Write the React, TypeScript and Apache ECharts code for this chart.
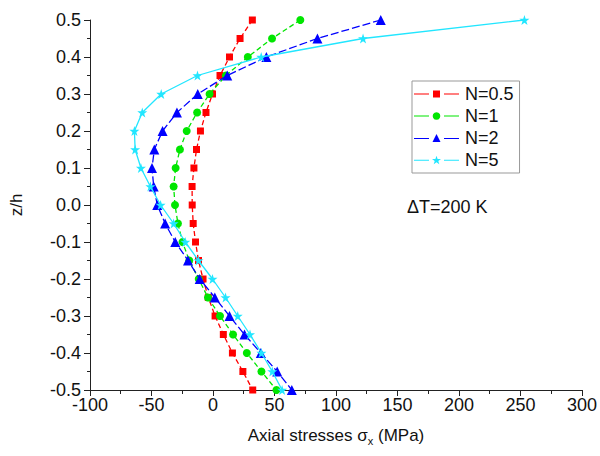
import React, { useEffect, useRef } from "react";
import * as echarts from "echarts";

const zValues = [0.5, 0.45, 0.4, 0.35, 0.3, 0.25, 0.2, 0.15, 0.1, 0.05, 0, -0.05, -0.1, -0.15, -0.2, -0.25, -0.3, -0.35, -0.4, -0.45, -0.5];
const seriesNames = ["N=0.5", "N=1", "N=2", "N=5"];
const stressN05 = [32, 22, 13.4, 5.7, -0.4, -5.7, -10.2, -13.4, -15.5, -17, -16.9, -16.1, -14.2, -11.8, -8.1, -3.8, 1.7, 8.4, 15.8, 24.3, 32.3];
const stressN1 = [71, 48, 28.3, 10.5, -2.8, -12.9, -21.4, -26.9, -30.4, -32, -30.9, -28.5, -24.8, -19.3, -11.6, -4.1, 5.7, 16.3, 27.5, 39.4, 51.6];
const stressN2 = [136.4, 84.9, 43.4, 11.6, -12.4, -29.3, -41, -47.7, -49.6, -48.2, -45.3, -38.9, -30.7, -20.3, -10.8, 1.5, 13.4, 25.6, 38.9, 52.2, 64.1];
const stressN5 = [253.2, 122, 39.2, -12.6, -42.1, -57.5, -63.9, -63.3, -58.6, -50.9, -42.6, -32, -22.5, -11.8, -0.4, 10.2, 20.1, 30.1, 39.4, 48.2, 56.2];
const xTicks = { min: -100, max: 300, interval: 50 };
const yTicks = { min: -0.5, max: 0.5, interval: 0.1 };

const colors = ["#ff0000", "#00e600", "#0000ff", "#22e6ff"];
const STAR = "path://M5,0L6.18,3.6L10,3.6L6.9,5.85L8.1,9.5L5,7.25L1.9,9.5L3.1,5.85L0,3.6L3.82,3.6Z";
const symbols = ["rect", "circle", "triangle", STAR];
const symbolSizes = [7, 8, 10, 10];
const dashes: any[] = [[5, 3], [5, 3], [8, 3], "solid"];

// legend icons: line - marker - line
const legendIcons = [
  "path://M0,4.5h15v1H0z M19,1.5h7v7h-7z M30,4.5h15v1H30z",
  "path://M0,4.5h15v1H0z M22.5,1.2a3.8,3.8 0 1,0 0.01,0z M30,4.5h15v1H30z",
  "path://M0,4.5h15v1H0z M22.5,0.5L26.5,8.5L18.5,8.5Z M30,4.5h15v1H30z",
  "path://M0,4.5h15v1H0z M22.5,0.5L23.6,3.7L27,3.7L24.3,5.7L25.3,9L22.5,7L19.7,9L20.7,5.7L18,3.7L21.4,3.7Z M30,4.5h15v1H30z",
];

export default function App() {
  const ref = useRef<HTMLDivElement>(null);
  useEffect(() => {
    if (!ref.current) return;
    const chart = echarts.init(ref.current, null, { renderer: "svg" });
    const allData = [stressN05, stressN1, stressN2, stressN5];
    const font = "Liberation Sans, Arial, sans-serif";
    chart.setOption({
      animation: false,
      textStyle: { fontFamily: font },
      grid: { left: 84, right: 14, top: 20, bottom: 66 },
      legend: {
        orient: "vertical",
        left: 412,
        top: 81,
        padding: [4, 6, 4, 2],
        itemGap: 4,
        itemWidth: 45,
        itemHeight: 10,
        borderColor: "#999",
        borderWidth: 1,
        borderRadius: 0,
        textStyle: { fontSize: 18, color: "#111", fontFamily: font, padding: [0, 0, 0, 1] },
        data: seriesNames.map((n, i) => ({ name: n, icon: legendIcons[i] })),
      },
      xAxis: {
        type: "value",
        min: xTicks.min,
        max: xTicks.max,
        interval: xTicks.interval,
        name: "Axial stresses σ{sub|x} (MPa)",
        nameLocation: "middle",
        nameGap: 35,
        nameTextStyle: {
          fontSize: 17,
          color: "#111",
          fontFamily: font,
          rich: { sub: { fontSize: 11, verticalAlign: "bottom", padding: [10, 0, 0, 0], color: "#111" } },
        },
        axisLine: { show: true, onZero: false, lineStyle: { color: "#222", width: 1 } },
        axisTick: { show: true, inside: false, length: 6, lineStyle: { color: "#222" } },
        minorTick: { show: true, splitNumber: 2, length: 4, lineStyle: { color: "#222" } },
        splitLine: { show: false },
        axisLabel: { fontSize: 18, color: "#111", margin: 6, fontFamily: font },
      },
      yAxis: {
        type: "value",
        min: yTicks.min,
        max: yTicks.max,
        interval: yTicks.interval,
        name: "z/h",
        nameLocation: "middle",
        nameGap: 65,
        nameRotate: 90,
        nameTextStyle: { fontSize: 17, color: "#111", fontFamily: font },
        axisLine: { show: true, onZero: false, lineStyle: { color: "#222", width: 1 } },
        axisTick: { show: true, inside: false, length: 6, lineStyle: { color: "#222" } },
        minorTick: { show: true, splitNumber: 2, length: 3, lineStyle: { color: "#222" } },
        splitLine: { show: false },
        axisLabel: {
          fontSize: 18,
          color: "#111",
          margin: 9,
          fontFamily: font,
          formatter: (v: number) => (Math.abs(v) < 1e-9 ? "0.0" : v.toFixed(1)),
        },
      },
      graphic: [
        {
          type: "text",
          left: 407,
          top: 198,
          style: { text: "ΔT=200 K", fontSize: 18, fill: "#111", fontFamily: font },
        },
      ],
      series: allData.map((arr, i) => ({
        name: seriesNames[i],
        type: "line",
        data: arr.map((x, j) => [x, zValues[j]]),
        symbol: symbols[i],
        symbolSize: symbolSizes[i],
        showAllSymbol: true,
        color: colors[i],
        itemStyle: { color: colors[i] },
        lineStyle: { color: colors[i], width: 1.3, type: dashes[i] },
        z: 2 + i,
      })),
    });
    return () => chart.dispose();
  }, []);
  return <div ref={ref} style={{ position: "absolute", left: 0, top: 0, width: 600, height: 456 }} />;
}
